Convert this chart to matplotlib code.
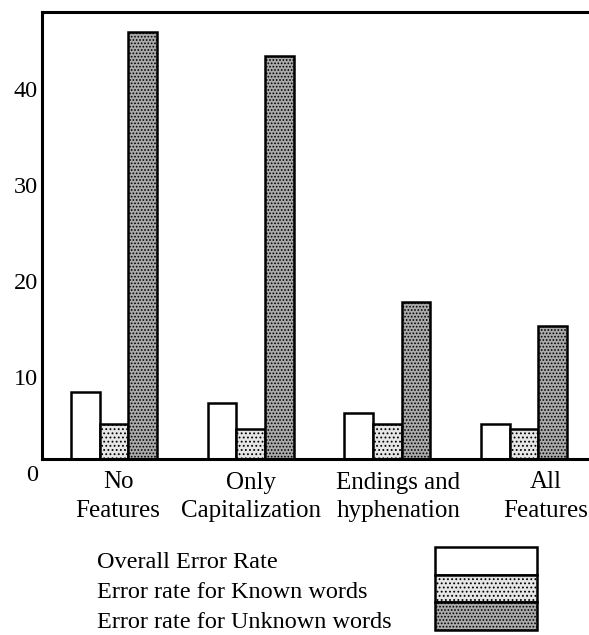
import matplotlib
matplotlib.use("Agg")
import matplotlib.pyplot as plt
import matplotlib.transforms as mtransforms
from matplotlib.patches import Rectangle

# данные (процент ошибок)
groups = ["No\nFeatures", "Only\nCapitalization", "Endings and\nhyphenation", "All\nFeatures"]
series_names = ["Overall Error Rate", "Error rate for Known words", "Error rate for Unknown words"]
overall = [7.0, 5.8, 4.8, 3.6]
known = [3.6, 3.1, 3.6, 3.1]
unknown = [44.5, 42.0, 16.4, 13.9]
yticks = [0, 10, 20, 30, 40]

# стили серий
faces = ["white", "#e6e6e6", "#aaaaaa"]
hatches = [None, "....", "....."]
label_shift = [0.03, 0.0, 0.08, 0.16]   # подписи групп слегка сдвинуты в оригинале

plt.rcParams["font.family"] = ["Liberation Serif", "DejaVu Serif"]
plt.rcParams["hatch.color"] = "black"
plt.rcParams["hatch.linewidth"] = 0.8

fig = plt.figure(figsize=(5.89, 6.35), dpi=100)
ax = fig.add_axes([42 / 589, 176 / 635, 1 - 42 / 589, 447 / 635])

width = 0.21
xs = list(range(len(groups)))
for i, vals in enumerate([overall, known, unknown]):
    pos = [x + (i - 1) * width for x in xs]
    ax.bar(pos, vals, width=width, facecolor=faces[i], edgecolor="black",
           linewidth=1.8, hatch=hatches[i], zorder=2)

ax.set_xlim(-0.527, 3.475)
ax.set_ylim(0, 46.6)
ax.set_yticks(yticks)
ax.tick_params(axis="y", length=0, pad=3, labelsize=17.5)
ax.set_xticks([x + s for x, s in zip(xs, label_shift)])
ax.set_xticklabels(groups, linespacing=1.4)
ax.tick_params(axis="x", length=0, pad=9, labelsize=18)

# в оригинале подписи оси Y стоят немного ниже делений
offset = mtransforms.ScaledTranslation(0, -14 / 100, fig.dpi_scale_trans)
for lbl in ax.get_yticklabels():
    lbl.set_transform(lbl.get_transform() + offset)

ax.spines["right"].set_visible(False)
for side in ["left", "top", "bottom"]:
    ax.spines[side].set_linewidth(2.2)

# легенда: подписи слева, прямоугольники справа
lax = fig.add_axes([0, 0, 1, 1], facecolor="none")
lax.set_xlim(0, 589)
lax.set_ylim(635, 0)
lax.axis("off")
box_top = 547
box_h = 27.7
for i, name in enumerate(series_names):
    lax.text(97, 562 + 30.5 * i, name, fontsize=17.5, va="center", ha="left")
    lax.add_patch(Rectangle((435, box_top + box_h * i), 102, box_h,
                            facecolor=faces[i], edgecolor="black",
                            linewidth=1.8, hatch=hatches[i]))

fig.savefig("out.png", dpi=100)
